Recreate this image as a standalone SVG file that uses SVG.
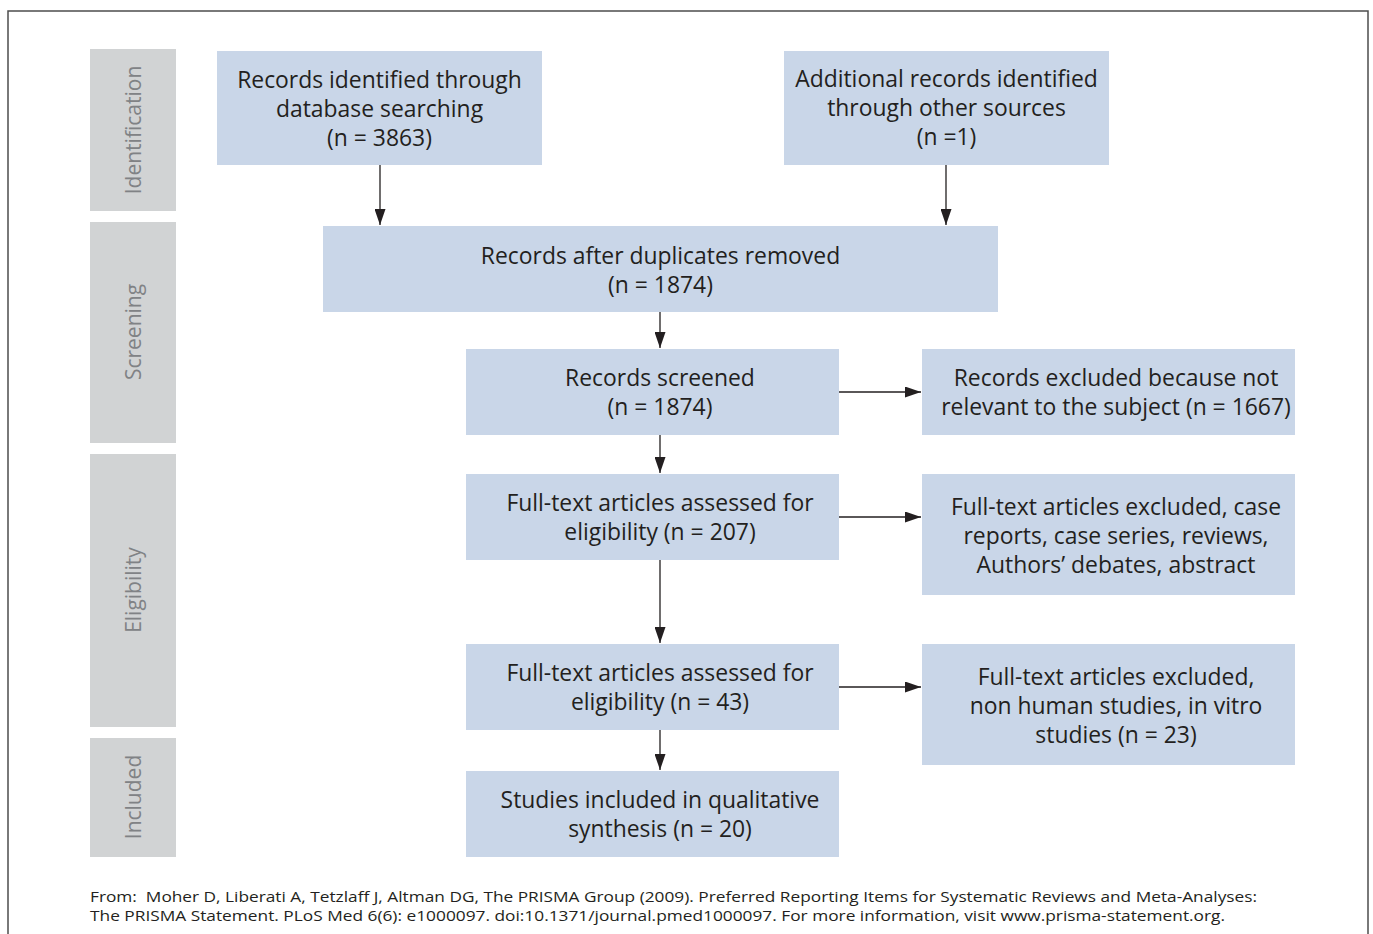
<svg xmlns="http://www.w3.org/2000/svg" width="1373" height="934" viewBox="0 0 1373 934">
<defs>
<style>
.box{fill:#c9d6e8}
.side{fill:#d1d3d4}
.t{font-family:"Open Sans","Noto Sans",sans-serif;font-size:22.9px;fill:#231f20;text-anchor:middle}
.s{font-family:"Open Sans","Noto Sans",sans-serif;font-size:21px;fill:#808285;text-anchor:middle}
.f{font-family:"Open Sans","Noto Sans",sans-serif;font-size:15px;fill:#231f20}
.c{stroke:#231f20;stroke-width:1.3;fill:none;marker-end:url(#ah)}
</style>
<marker id="ah" viewBox="0 0 16 11" refX="16" refY="5.5" markerWidth="16" markerHeight="11" markerUnits="userSpaceOnUse" orient="auto">
<path d="M0,0 L16,5.5 L0,11 z" fill="#231f20"/>
</marker>
</defs>
<rect x="0" y="0" width="1373" height="934" fill="#ffffff"/>
<rect x="8" y="11" width="1360" height="930" fill="none" stroke="#4d4d4d" stroke-width="1.5"/>
<g id="phase-identification"><rect class="side" x="90" y="49" width="86" height="162"/><text class="s" transform="translate(141,130) rotate(-90)">Identification</text></g>
<g id="phase-screening"><rect class="side" x="90" y="222" width="86" height="221"/><text class="s" transform="translate(141,332) rotate(-90)">Screening</text></g>
<g id="phase-eligibility"><rect class="side" x="90" y="454" width="86" height="273"/><text class="s" transform="translate(141,590) rotate(-90)">Eligibility</text></g>
<g id="phase-included"><rect class="side" x="90" y="738" width="86" height="119"/><text class="s" transform="translate(141,797) rotate(-90)">Included</text></g>
<g id="n-database"><rect class="box" x="217" y="51" width="325" height="114"/><text class="t" x="379.5" y="88">Records identified through</text><text class="t" x="379.5" y="117">database searching</text><text class="t" x="379.5" y="146">(n = 3863)</text></g>
<g id="n-other"><rect class="box" x="784" y="51" width="325" height="114"/><text class="t" x="946.5" y="87">Additional records identified</text><text class="t" x="946.5" y="116">through other sources</text><text class="t" x="946.5" y="145">(n =1)</text></g>
<g id="n-dedup"><rect class="box" x="323" y="226" width="675" height="86"/><text class="t" x="660.5" y="264">Records after duplicates removed</text><text class="t" x="660.5" y="293">(n = 1874)</text></g>
<g id="n-screened"><rect class="box" x="466" y="349" width="373" height="86"/><text class="t" x="660" y="386">Records screened</text><text class="t" x="660" y="415">(n = 1874)</text></g>
<g id="n-excl1"><rect class="box" x="922" y="349" width="373" height="86"/><text class="t" x="1116" y="386">Records excluded because not</text><text class="t" x="1116" y="415">relevant to the subject (n = 1667)</text></g>
<g id="n-fulltext1"><rect class="box" x="466" y="474" width="373" height="86"/><text class="t" x="660" y="511">Full-text articles assessed for</text><text class="t" x="660" y="540">eligibility (n = 207)</text></g>
<g id="n-excl2"><rect class="box" x="922" y="474" width="373" height="121"/><text class="t" x="1116" y="515">Full-text articles excluded, case</text><text class="t" x="1116" y="544">reports, case series, reviews,</text><text class="t" x="1116" y="573">Authors’ debates, abstract</text></g>
<g id="n-fulltext2"><rect class="box" x="466" y="644" width="373" height="86"/><text class="t" x="660" y="681">Full-text articles assessed for</text><text class="t" x="660" y="710">eligibility (n = 43)</text></g>
<g id="n-excl3"><rect class="box" x="922" y="644" width="373" height="121"/><text class="t" x="1116" y="685">Full-text articles excluded,</text><text class="t" x="1116" y="714">non human studies, in vitro</text><text class="t" x="1116" y="743">studies (n = 23)</text></g>
<g id="n-included"><rect class="box" x="466" y="771" width="373" height="86"/><text class="t" x="660" y="808">Studies included in qualitative</text><text class="t" x="660" y="837">synthesis (n = 20)</text></g>
<g id="connectors">
<line class="c" x1="380" y1="165" x2="380" y2="225"/>
<line class="c" x1="946" y1="165" x2="946" y2="225"/>
<line class="c" x1="660" y1="312" x2="660" y2="348"/>
<line class="c" x1="839" y1="392" x2="921" y2="392"/>
<line class="c" x1="660" y1="435" x2="660" y2="473"/>
<line class="c" x1="839" y1="517" x2="921" y2="517"/>
<line class="c" x1="660" y1="560" x2="660" y2="643"/>
<line class="c" x1="839" y1="687" x2="921" y2="687"/>
<line class="c" x1="660" y1="730" x2="660" y2="770"/>
</g>
<g id="footer">
<text class="f" x="90" y="901.5" textLength="1167" lengthAdjust="spacingAndGlyphs">From:&#160; Moher D, Liberati A, Tetzlaff J, Altman DG, The PRISMA Group (2009). Preferred Reporting Items for Systematic Reviews and Meta-Analyses:</text>
<text class="f" x="90" y="920.5" textLength="1135" lengthAdjust="spacingAndGlyphs">The PRISMA Statement. PLoS Med 6(6): e1000097. doi:10.1371/journal.pmed1000097. For more information, visit www.prisma-statement.org.</text>
</g>
</svg>
